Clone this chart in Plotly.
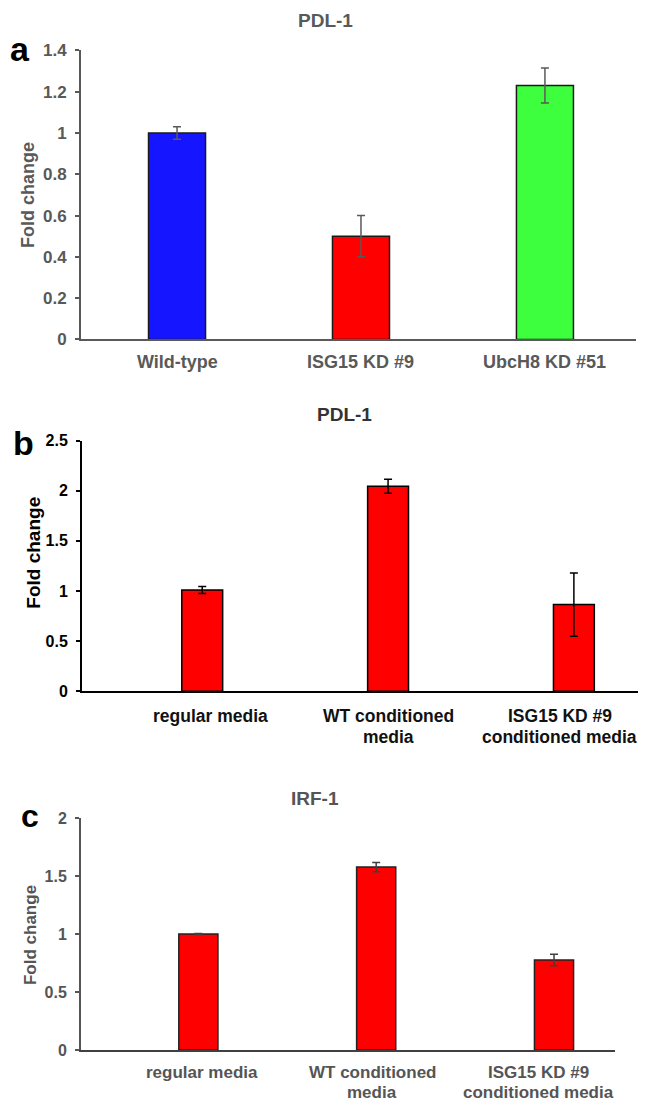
import plotly.graph_objects as go

# ---- data ----
a_cats = ["Wild-type", "ISG15 KD #9", "UbcH8 KD #51"]
a_vals = [1.0, 0.5, 1.23]
a_errs = [0.03, 0.10, 0.085]
a_colors = ["#1515FF", "#FF0000", "#3DFF3D"]

b_cats = ["regular media", "WT conditioned<br>media", "ISG15 KD #9<br>conditioned media"]
b_vals = [1.01, 2.045, 0.865]
b_errs = [0.035, 0.07, 0.315]

c_cats = ["regular media", "WT conditioned<br>media", "ISG15 KD #9<br>conditioned media"]
c_vals = [1.0, 1.577, 0.776]
c_errs = [0.005, 0.04, 0.05]

# the page body keeps its default 8px margin, so the figure is drawn 8px in
OFF = 8
W, H = 646 - OFF, 1119 - OFF
FONT = "Liberation Sans"
GA = "#595959"
GB = "#111111"
GC = "#555555"


def py(y):
    return 1 - (y - OFF) / H


def px(x):
    return (x - OFF) / W


fig = go.Figure()

fig.add_trace(go.Bar(
    x=[0, 1, 2], y=a_vals, xaxis="x", yaxis="y", width=0.31,
    marker=dict(color=a_colors, line=dict(color="#1a1a1a", width=1.5)),
    error_y=dict(type="data", array=a_errs, color=GA, thickness=1.5, width=4),
    showlegend=False,
))
fig.add_trace(go.Bar(
    x=[0, 1, 2], y=b_vals, xaxis="x2", yaxis="y2", width=0.22,
    marker=dict(color="#FF0000", line=dict(color="#000000", width=1.5)),
    error_y=dict(type="data", array=b_errs, color="#000000", thickness=1.5, width=4),
    showlegend=False,
))
fig.add_trace(go.Bar(
    x=[0, 1, 2], y=c_vals, xaxis="x3", yaxis="y3", width=0.22,
    marker=dict(color="#FF0000", line=dict(color="#222222", width=1.5)),
    error_y=dict(type="data", array=c_errs, color="#404040", thickness=1.5, width=4),
    showlegend=False,
))


def xax(domain, color, rng, anchor):
    return dict(domain=domain, anchor=anchor, range=rng, showline=True, linecolor=color,
                linewidth=2, ticks="", showgrid=False, zeroline=False,
                showticklabels=False)


def yax(domain, color, size, rng, dtick, anchor):
    return dict(domain=domain, anchor=anchor, range=rng, dtick=dtick, showline=True,
                linecolor=color, linewidth=2, ticks="outside", ticklen=4, tickwidth=1.5,
                tickcolor=color, showgrid=False, zeroline=False, tickformat="~g",
                ticklabelstandoff=5,
                tickfont=dict(family=FONT, size=size, color=color, weight="bold"))


fig.update_layout(
    width=W, height=H, margin=dict(l=0, r=0, t=0, b=0),
    paper_bgcolor="white", plot_bgcolor="white",
    font=dict(family=FONT),
    xaxis=xax([px(81), px(636)], GA, [-0.522, 2.495], "y"),
    yaxis=yax([py(336), py(42)], GA, 17, [0, 1.4], 0.2, "x"),
    xaxis2=xax([px(82), px(638)], "#000000", [-0.647, 2.345], "y2"),
    yaxis2=yax([py(694), py(439)], "#000000", 16, [0, 2.5], 0.5, "x2"),
    xaxis3=xax([px(81), px(615)], "#404040", [-0.66, 2.343], "y3"),
    yaxis3=yax([py(1059), py(823)], GC, 16, [0, 2], 0.5, "x3"),
)

ann = []


def text(x, y, s, size, color, angle=0):
    ann.append(dict(x=px(x), y=py(y), xref="paper", yref="paper", text=s, showarrow=False,
                    xanchor="center", yanchor="middle", textangle=angle,
                    font=dict(family=FONT, size=size, color=color, weight="bold")))


def cat_labels(cats, xref, first_y, line_gap, shifts, size, color):
    for i, lab in enumerate(cats):
        for j, line in enumerate(lab.split("<br>")):
            ann.append(dict(x=i, y=py(first_y + j * line_gap), xref=xref, yref="paper",
                            text=line, showarrow=False, xanchor="center", yanchor="middle",
                            xshift=shifts[i],
                            font=dict(family=FONT, size=size, color=color, weight="bold")))


# category labels
cat_labels(a_cats, "x", 359, 0, [0, 0, 0], 18, GA)
cat_labels(b_cats, "x2", 719, 22, [8, 0, -14], 17.5, GB)
cat_labels(c_cats, "x3", 1082, 20, [4, -4, -16], 17, GC)

# titles
text(325, 12, "PDL-1", 19, GA)
text(344, 412, "PDL-1", 19, "#333333")
text(315, 803, "IRF-1", 19, GC)
# panel letters
text(20, 41, "a", 34, "#000000")
text(23, 441, "b", 34, "#000000")
text(30, 821, "c", 32, "#000000")
# axis titles
text(28, 189, "Fold change", 18, GA, -90)
text(34, 553, "Fold change", 19, "#000000", -90)
text(30, 942, "Fold change", 17, GC, -90)

fig.update_layout(annotations=ann)
fig.write_html("out.html")
